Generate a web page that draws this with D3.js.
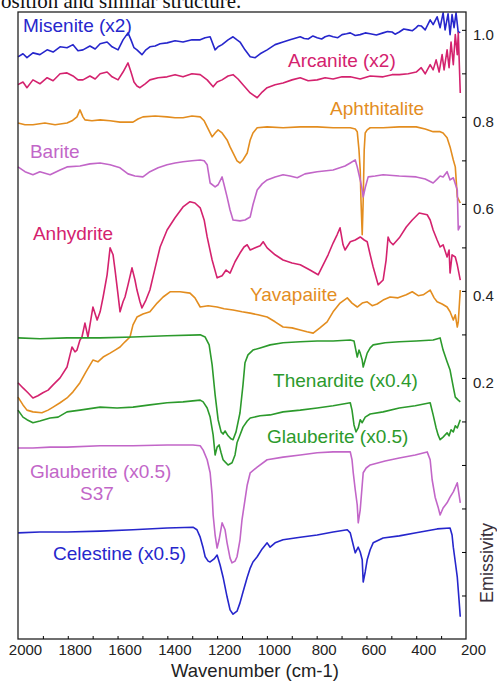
<!DOCTYPE html>
<html>
<head>
<meta charset="utf-8">
<script src="https://cdn.jsdelivr.net/npm/d3@7/dist/d3.min.js"></script>
<style>
  body { margin: 0; background: #fff; }
  svg text { font-family: "Liberation Sans", Arial, sans-serif; }
</style>
</head>
<body>
<div class="canvas-container"></div>
<script>

// spectra, [wavenumber cm-1, emissivity (offset as in the figure)]
var misenite = [[2000,.938],[1980,.945],[1964,.936],[1940,.947],[1912,.943],[1883,.954],[1859,.949],[1831,.961],[1803,.959],[1779,.966],[1759,.952],[1739,.954],[1711,.963],[1690,.956],[1670,.968],[1642,.972],[1622,.961],[1598,.954],[1578,.977],[1558,.993],[1546,.977],[1534,.959],[1522,.954],[1502,.943],[1486,.954],[1470,.961],[1449,.963],[1429,.968],[1401,.970],[1369,.975],[1337,.972],[1301,.977],[1268,.977],[1248,.982],[1228,.984],[1208,.954],[1196,.961],[1180,.966],[1156,.977],[1136,.984],[1120,.977],[1108,.972],[1088,.954],[1067,.938],[1047,.936],[1027,.945],[999,.954],[967,.966],[935,.972],[907,.977],[866,.984],[850,.980],[834,.979],[815,.986],[798,.982],[780,.979],[766,.984],[750,.987],[734,.984],[715,.982],[698,.989],[680,.991],[665,.993],[645,.987],[625,.989],[605,.993],[585,.991],[560,.988],[533,.993],[515,.996],[497,.995],[485,.990],[468,.995],[450,1.002],[432,1.000],[415,.998],[400,1.005],[392,1.010],[380,1.009],[364,1.000],[344,1.023],[332,1.012],[316,1.030],[304,1.005],[292,1.039],[284,1.000],[272,1.037],[264,.989],[256,1.035],[248,1.005],[240,1.039],[231,.993],[223,.995]];

var arcanite = [[2000,.874],[1980,.880],[1964,.867],[1940,.885],[1912,.876],[1883,.890],[1859,.883],[1831,.899],[1803,.901],[1779,.894],[1759,.885],[1739,.885],[1711,.894],[1690,.887],[1670,.899],[1642,.903],[1622,.892],[1598,.885],[1578,.903],[1558,.924],[1546,.903],[1534,.880],[1522,.871],[1510,.867],[1489,.876],[1470,.885],[1437,.890],[1401,.892],[1369,.897],[1337,.892],[1301,.899],[1268,.897],[1240,.885],[1216,.869],[1200,.880],[1180,.885],[1156,.894],[1136,.897],[1116,.887],[1096,.874],[1067,.855],[1039,.844],[1019,.857],[999,.867],[967,.874],[935,.878],[899,.885],[866,.890],[834,.883],[798,.885],[766,.890],[734,.887],[698,.892],[665,.892],[625,.887],[585,.894],[533,.892],[497,.897],[468,.897],[432,.899],[400,.903],[380,.913],[364,.899],[344,.920],[332,.908],[320,.931],[308,.903],[296,.943],[288,.908],[276,.954],[268,.913],[260,.972],[251,.920],[243,.989],[235,.943],[231,.993],[223,.855]];

var aphthitalite = [[2000,.786],[1972,.782],[1940,.782],[1892,.786],[1851,.782],[1803,.786],[1783,.791],[1763,.800],[1751,.816],[1739,.800],[1731,.793],[1703,.791],[1670,.793],[1630,.791],[1590,.788],[1538,.788],[1518,.795],[1498,.800],[1449,.802],[1401,.800],[1369,.798],[1337,.798],[1301,.802],[1268,.800],[1252,.791],[1240,.777],[1220,.754],[1208,.763],[1196,.770],[1180,.763],[1160,.747],[1148,.731],[1136,.717],[1120,.699],[1108,.694],[1096,.701],[1079,.717],[1067,.747],[1056,.763],[1039,.775],[999,.777],[935,.775],[866,.777],[798,.777],[734,.775],[665,.775],[645,.772],[637,.766],[630,.724],[625,.678],[622,.609],[617,.529],[613,.609],[609,.724],[605,.763],[597,.770],[585,.775],[533,.775],[468,.777],[400,.777],[364,.772],[332,.766],[304,.766],[292,.763],[276,.752],[264,.731],[251,.701],[243,.685],[235,.616],[223,.602]];

var barite = [[2000,.685],[1972,.674],[1940,.667],[1912,.674],[1871,.667],[1831,.678],[1803,.685],[1751,.687],[1711,.692],[1670,.694],[1630,.690],[1590,.683],[1558,.669],[1530,.664],[1498,.662],[1470,.674],[1437,.683],[1401,.690],[1369,.694],[1337,.697],[1301,.699],[1268,.701],[1252,.699],[1240,.690],[1228,.648],[1208,.639],[1196,.644],[1180,.662],[1172,.644],[1160,.616],[1148,.586],[1136,.563],[1108,.561],[1088,.563],[1067,.570],[1056,.598],[1039,.632],[1019,.646],[999,.655],[967,.662],[935,.667],[907,.664],[878,.660],[847,.669],[798,.674],[734,.678],[686,.687],[665,.694],[645,.701],[637,.685],[625,.655],[617,.632],[613,.616],[605,.637],[593,.662],[565,.664],[533,.667],[468,.664],[400,.662],[364,.657],[332,.648],[316,.657],[304,.664],[292,.662],[276,.674],[264,.655],[251,.660],[235,.632],[231,.540],[223,.550]];

var anhydrite = [[2000,.189],[1980,.177],[1960,.166],[1940,.154],[1920,.159],[1900,.166],[1879,.172],[1859,.184],[1831,.200],[1803,.225],[1791,.253],[1783,.271],[1771,.260],[1763,.264],[1751,.287],[1743,.294],[1731,.326],[1719,.294],[1699,.363],[1682,.333],[1670,.352],[1658,.386],[1642,.437],[1630,.499],[1618,.483],[1610,.448],[1598,.391],[1590,.352],[1578,.375],[1570,.386],[1558,.414],[1542,.453],[1530,.425],[1522,.402],[1510,.375],[1502,.361],[1486,.379],[1470,.402],[1449,.453],[1429,.501],[1401,.540],[1369,.568],[1337,.593],[1309,.605],[1289,.602],[1268,.591],[1252,.563],[1240,.524],[1220,.471],[1200,.430],[1180,.435],[1164,.448],[1148,.441],[1128,.467],[1108,.487],[1092,.501],[1079,.506],[1067,.494],[1047,.499],[1027,.504],[1015,.513],[999,.499],[967,.483],[935,.471],[899,.464],[866,.460],[827,.448],[794,.437],[774,.460],[754,.483],[734,.510],[718,.529],[706,.545],[694,.506],[686,.494],[665,.513],[645,.517],[625,.524],[609,.517],[597,.513],[585,.483],[573,.455],[553,.414],[533,.425],[521,.471],[513,.524],[505,.513],[493,.506],[468,.522],[440,.547],[416,.563],[388,.579],[356,.575],[344,.563],[332,.540],[316,.517],[304,.501],[292,.506],[276,.478],[268,.494],[264,.441],[256,.483],[243,.478],[235,.460],[223,.425]];

var yavapaiite = [[2000,.156],[1980,.138],[1964,.126],[1940,.122],[1904,.120],[1879,.126],[1859,.133],[1831,.143],[1803,.154],[1779,.168],[1751,.189],[1727,.214],[1699,.241],[1679,.237],[1658,.248],[1630,.257],[1610,.264],[1590,.271],[1570,.283],[1550,.294],[1538,.322],[1522,.340],[1498,.347],[1470,.352],[1441,.372],[1417,.386],[1389,.398],[1349,.398],[1309,.395],[1289,.384],[1268,.363],[1236,.366],[1200,.363],[1172,.359],[1136,.356],[1100,.352],[1067,.349],[1036,.345],[999,.340],[967,.329],[935,.317],[899,.315],[866,.310],[839,.306],[814,.303],[787,.315],[758,.329],[734,.352],[706,.372],[677,.384],[658,.372],[637,.363],[617,.372],[597,.375],[577,.366],[557,.370],[533,.379],[505,.386],[473,.384],[440,.391],[416,.398],[392,.389],[372,.391],[344,.402],[328,.384],[316,.375],[296,.370],[276,.363],[264,.352],[251,.333],[243,.345],[235,.317],[231,.329],[223,.402]];

var thenardite = [[2000,.292],[1912,.290],[1803,.292],[1670,.292],[1538,.294],[1401,.297],[1268,.299],[1248,.294],[1232,.276],[1220,.230],[1208,.161],[1196,.104],[1184,.076],[1176,.071],[1168,.078],[1156,.067],[1144,.060],[1136,.058],[1124,.076],[1108,.120],[1096,.184],[1088,.235],[1076,.253],[1056,.264],[1027,.269],[987,.276],[935,.281],[866,.283],[798,.285],[734,.285],[665,.287],[650,.285],[637,.248],[630,.264],[625,.257],[617,.241],[613,.225],[605,.241],[597,.257],[585,.269],[573,.276],[525,.281],[468,.283],[400,.285],[332,.287],[304,.292],[292,.264],[276,.237],[264,.218],[251,.179],[243,.156],[231,.149],[223,.145]];

var glauberite = [[2000,.126],[1980,.110],[1964,.104],[1940,.097],[1912,.101],[1871,.108],[1839,.110],[1803,.122],[1751,.126],[1670,.133],[1602,.131],[1538,.133],[1470,.138],[1401,.143],[1337,.145],[1268,.149],[1256,.145],[1240,.131],[1228,.110],[1216,.069],[1208,.023],[1200,.041],[1192,.046],[1184,.028],[1176,.012],[1168,.007],[1156,.000],[1140,.005],[1128,.023],[1120,.051],[1108,.069],[1096,.087],[1079,.101],[1067,.108],[1027,.113],[987,.115],[935,.122],[866,.126],[798,.131],[734,.136],[665,.143],[658,.126],[650,.092],[642,.076],[633,.085],[625,.104],[617,.097],[605,.110],[585,.117],[533,.122],[468,.131],[404,.136],[344,.143],[332,.115],[320,.085],[312,.069],[304,.058],[292,.064],[276,.074],[268,.067],[260,.081],[251,.076],[243,.090],[235,.085],[223,.104]];

var glauberiteS37 = [[2000,.039],[1940,.039],[1871,.041],[1803,.041],[1670,.044],[1538,.044],[1401,.046],[1297,.046],[1268,.044],[1256,.034],[1240,.012],[1228,-.018],[1220,-.069],[1216,-.115],[1208,-.161],[1200,-.191],[1192,-.172],[1180,-.133],[1168,-.149],[1160,-.179],[1148,-.214],[1140,-.225],[1128,-.221],[1120,-.211],[1108,-.172],[1100,-.126],[1088,-.080],[1079,-.046],[1067,-.018],[1039,-.005],[999,.012],[935,.018],[866,.023],[798,.028],[734,.030],[665,.030],[658,.012],[653,-.018],[645,-.057],[637,-.092],[633,-.133],[625,-.103],[617,-.046],[613,-.018],[601,-.007],[585,.000],[525,.009],[468,.016],[404,.023],[356,.030],[344,.012],[336,-.034],[324,-.074],[312,-.097],[304,-.115],[292,-.099],[276,-.087],[264,-.074],[251,-.062],[235,-.041],[223,-.087]];

var celestine = [[2000,-.156],[1912,-.154],[1803,-.154],[1670,-.152],[1538,-.149],[1401,-.145],[1297,-.143],[1281,-.149],[1268,-.166],[1256,-.191],[1248,-.211],[1236,-.221],[1228,-.223],[1212,-.216],[1200,-.207],[1188,-.230],[1176,-.258],[1160,-.303],[1148,-.333],[1136,-.343],[1120,-.336],[1108,-.317],[1096,-.292],[1079,-.258],[1067,-.237],[1056,-.223],[1039,-.211],[1019,-.193],[999,-.179],[987,-.189],[967,-.179],[935,-.172],[866,-.166],[798,-.161],[734,-.154],[677,-.149],[665,-.156],[653,-.184],[645,-.202],[633,-.189],[625,-.200],[617,-.218],[613,-.269],[605,-.246],[597,-.218],[585,-.195],[573,-.179],[533,-.168],[468,-.163],[400,-.156],[316,-.147],[264,-.145],[256,-.161],[251,-.189],[243,-.223],[235,-.258],[228,-.310],[223,-.349]];

// labels: text, anchor [wavenumber, emissivity] at left/baseline
var labelTexts = ["Misenite (x2)", "Arcanite (x2)", "Aphthitalite", "Barite", "Anhydrite", "Yavapaiite",
                  "Thenardite (x0.4)", "Glauberite (x0.5)", "Glauberite (x0.5)", "S37", "Celestine (x0.5)"];
var labelAnchors = [[1980,.995],[915,.915],[746,.805],[1952,.706],[1940,.517],[1068,.377],
                    [975,.179],[1000,.051],[1952,-.030],[1751,-.080],[1859,-.218]];

var xTicks = [1900,1800,1700,1600,1500,1400,1300,1200,1100,1000,900,800,700,600,500,400,300];
var xTickLabels = [2000,1800,1600,1400,1200,1000,800,600,400,200];
var yTicks = [1.0,0.9,0.8,0.7,0.6,0.5,0.4,0.3,0.2,0.1,0.0,-0.1,-0.2,-0.3];
var yTickLabels = [1.0,0.8,0.6,0.4,0.2];

var blue = "#2626cc", crimson = "#d4226e", orange = "#e38d1f", violet = "#c266c8", green = "#2c9a2c";

var series = [
    {values: misenite, color: blue},
    {values: arcanite, color: crimson},
    {values: aphthitalite, color: orange},
    {values: barite, color: violet},
    {values: anhydrite, color: crimson},
    {values: yavapaiite, color: orange},
    {values: thenardite, color: green},
    {values: glauberite, color: green},
    {values: glauberiteS37, color: violet},
    {values: celestine, color: blue}
];
var labelColors = [blue, crimson, orange, violet, crimson, orange, green, green, violet, violet, blue];

function drawChart () {

    var width = 497, height = 682, svg, x, y, line;

    svg = d3.select("div.canvas-container")
        .append("svg")
        .attr("width", width)
        .attr("height", height);

    // cut-off caption line from the page above the figure
    svg.append("text")
        .attr("x", 1)
        .attr("y", 8)
        .style("font-family", "'Liberation Serif', 'Times New Roman', serif")
        .style("font-size", "21px")
        .attr("fill", "#111")
        .text("osition and similar structure.");

    x = d3.scaleLinear().domain([2000, 200]).range([18, 466]);
    y = d3.scaleLinear().domain([-0.4, 1.041]).range([639, 12]);

    line = d3.line()
        .x(function (d) { return x(d[0]); })
        .y(function (d) { return y(d[1]); });

    svg.append("g")
        .selectAll("path")
        .data(series)
        .enter()
        .append("path")
        .attr("d", function (d) { return line(d.values); })
        .attr("fill", "none")
        .attr("stroke", function (d) { return d.color; })
        .attr("stroke-width", 1.6)
        .attr("stroke-linejoin", "round");

    svg.append("g")
        .selectAll("text")
        .data(labelTexts)
        .enter()
        .append("text")
        .attr("x", function (d, i) { return x(labelAnchors[i][0]); })
        .attr("y", function (d, i) { return y(labelAnchors[i][1]); })
        .attr("fill", function (d, i) { return labelColors[i]; })
        .style("font-size", "19px")
        .text(function (d) { return d; });

    // frame
    svg.append("rect")
        .attr("x", 18)
        .attr("y", 12)
        .attr("width", 448)
        .attr("height", 627)
        .attr("fill", "none")
        .attr("stroke", "#222")
        .attr("stroke-width", 1.3);

    // tick marks (inward)
    svg.append("g")
        .attr("transform", "translate(0,639)")
        .call(d3.axisBottom(x).tickValues(xTicks).tickSize(-3).tickFormat(""))
        .call(function (g) { g.select(".domain").remove(); });

    svg.append("g")
        .attr("transform", "translate(466,0)")
        .call(d3.axisRight(y).tickValues(yTicks).tickSize(-4).tickFormat(""))
        .call(function (g) { g.select(".domain").remove(); });

    // tick labels (slightly offset, as in the scan)
    var xl = svg.append("g")
        .attr("transform", "translate(7,639)")
        .call(d3.axisBottom(x).tickValues(xTickLabels).tickSize(0).tickPadding(5)
              .tickFormat(d3.format("d")));
    xl.select(".domain").remove();
    xl.selectAll("text").style("font-size", "15px").attr("fill", "#222")
        .style("font-family", "'Liberation Sans', Arial, sans-serif");

    var yl = svg.append("g")
        .attr("transform", "translate(466,5)")
        .call(d3.axisRight(y).tickValues(yTickLabels).tickSize(0).tickPadding(7)
              .tickFormat(d3.format(".1f")));
    yl.select(".domain").remove();
    yl.selectAll("text").style("font-size", "15px").attr("fill", "#222")
        .style("font-family", "'Liberation Sans', Arial, sans-serif");

    svg.append("text")
        .attr("x", 255)
        .attr("y", 677)
        .attr("text-anchor", "middle")
        .attr("fill", "#222")
        .style("font-size", "18.5px")
        .text("Wavenumber (cm-1)");

    svg.append("text")
        .attr("transform", "translate(493,563) rotate(-90)")
        .attr("text-anchor", "middle")
        .attr("fill", "#3a2f3a")
        .style("font-size", "18px")
        .text("Emissivity");
}

drawChart();
</script>
</body>
</html>
